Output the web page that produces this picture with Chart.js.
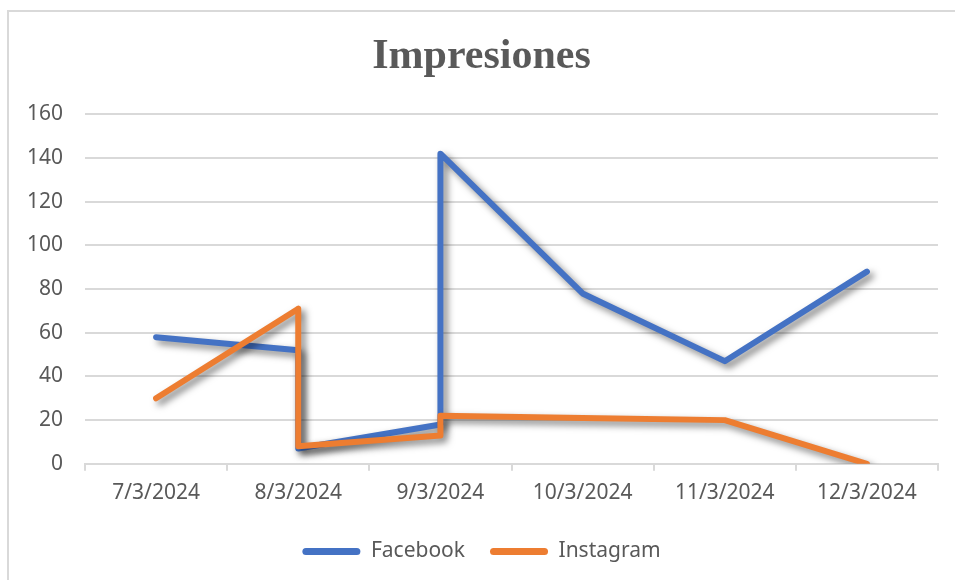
<!DOCTYPE html>
<html>
<head>
<meta charset="utf-8">
<script src="https://cdn.jsdelivr.net/npm/chart.js@4.4.1/dist/chart.umd.min.js"></script>
<style>
  html, body { margin: 0; padding: 0; background: #fff; }
  canvas { display: block; }
</style>
</head>
<body>
<canvas id="chart" width="955" height="580"></canvas>
<script>
// fechas del eje (hay días con dos registros, por eso los saltos verticales)
const dates = ['7/3/2024', '8/3/2024', '9/3/2024', '10/3/2024', '11/3/2024', '12/3/2024'];
const pointDates = ['7/3/2024', '8/3/2024', '8/3/2024', '9/3/2024', '9/3/2024', '10/3/2024', '11/3/2024', '12/3/2024'];
const facebook = [58, 52, 7, 18, 142, 78, 47, 88];
const instagram = [30, 71, 8, 13, 22, 21, 20, 0];
const yTicks = [0, 20, 40, 60, 80, 100, 120, 140, 160];

const textColor = '#595959';
const gridColor = '#d9d9d9';

function toPoints(values) {
    return values.map((v, i) => ({ x: pointDates[i], y: v }));
}

// sombra tipo Excel bajo las líneas
const lineShadow = {
    id: 'lineShadow',
    beforeDatasetsDraw(chart) {
        const ctx = chart.ctx;
        ctx.save();
        ctx.shadowColor = 'rgba(0, 0, 0, 0.5)';
        ctx.shadowBlur = 7;
        ctx.shadowOffsetX = 4;
        ctx.shadowOffsetY = 4;
    },
    afterDatasetsDraw(chart) {
        chart.ctx.restore();
    }
};

// marco del área del gráfico
const chartFrame = {
    id: 'chartFrame',
    beforeDraw(chart) {
        const ctx = chart.ctx;
        ctx.save();
        ctx.fillStyle = '#fff';
        ctx.fillRect(0, 0, chart.width, chart.height);
        ctx.strokeStyle = gridColor;
        ctx.lineWidth = 2;
        ctx.beginPath();
        ctx.moveTo(8, chart.height + 5);
        ctx.lineTo(8, 11);
        ctx.lineTo(chart.width + 5, 11);
        ctx.stroke();
        ctx.restore();
    }
};

const ctx = document.getElementById('chart').getContext('2d');
new Chart(ctx, {
    type: 'line',
    data: {
        labels: dates,
        datasets: [
            {
                label: 'Facebook',
                data: toPoints(facebook),
                borderColor: '#4472C4',
                backgroundColor: '#4472C4',
                borderWidth: 6,
                pointRadius: 0,
                borderCapStyle: 'round',
                borderJoinStyle: 'round',
                tension: 0,
                order: 1
            },
            {
                label: 'Instagram',
                data: toPoints(instagram),
                borderColor: '#ED7D31',
                backgroundColor: '#ED7D31',
                borderWidth: 6,
                pointRadius: 0,
                borderCapStyle: 'round',
                borderJoinStyle: 'round',
                tension: 0,
                order: 0
            }
        ]
    },
    options: {
        responsive: false,
        animation: false,
        devicePixelRatio: 1,
        layout: { padding: { left: 25, right: 17, top: 10, bottom: 8 } },
        plugins: {
            title: {
                display: true,
                text: 'Impresiones',
                color: textColor,
                font: { family: '"Liberation Serif", "Times New Roman", serif', size: 42, weight: 'bold' },
                padding: { top: 22, bottom: 32 }
            },
            legend: {
                position: 'bottom',
                labels: {
                    color: textColor,
                    font: { family: '"Noto Sans", "Open Sans", sans-serif', size: 21 },
                    boxWidth: 58,
                    boxHeight: 7,
                    padding: 25,
                    useBorderRadius: true,
                    borderRadius: 3.5,
                    sort: (a, b) => a.datasetIndex - b.datasetIndex,
                    generateLabels(chart) {
                        const items = Chart.defaults.plugins.legend.labels.generateLabels(chart);
                        items.forEach(it => { it.lineWidth = 0; });
                        return items;
                    }
                }
            },
            tooltip: { enabled: false }
        },
        scales: {
            x: {
                type: 'category',
                offset: true,
                grid: {
                    offset: true,
                    drawOnChartArea: false,
                    drawTicks: true,
                    tickLength: 7,
                    color: gridColor,
                    lineWidth: 2
                },
                border: { display: true, color: gridColor, width: 2 },
                ticks: {
                    color: textColor,
                    font: { family: '"Noto Sans", "Open Sans", sans-serif', size: 21 },
                    padding: 10,
                    maxRotation: 0,
                    autoSkip: false
                }
            },
            y: {
                min: 0,
                max: 160,
                afterBuildTicks(scale) {
                    scale.ticks = yTicks.map(v => ({ value: v }));
                },
                grid: {
                    color: gridColor,
                    lineWidth: 2,
                    drawTicks: false
                },
                border: { display: false },
                ticks: {
                    color: textColor,
                    font: { family: '"Noto Sans", "Open Sans", sans-serif', size: 21 },
                    padding: 22
                },
                afterFit(scale) {
                    scale.width = 60;
                }
            }
        }
    },
    plugins: [chartFrame, lineShadow]
});
</script>
</body>
</html>
